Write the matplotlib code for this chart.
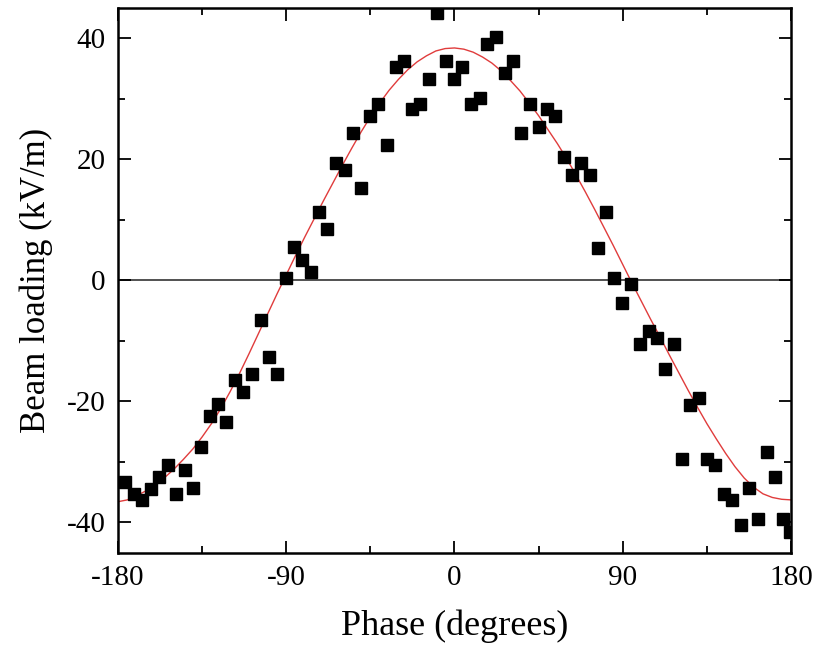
import matplotlib.pyplot as plt
from matplotlib.ticker import MultipleLocator

plt.rcParams['font.family'] = ['Liberation Serif', 'DejaVu Serif']
plt.rcParams['axes.unicode_minus'] = False

# measured points (phase in degrees, beam loading in kV/m)
phase = [-176.1, -171.6, -167.2, -162.5, -158.1, -153.3, -148.8, -144.4, -139.9, -135.4,
         -131.0, -126.5, -122.0, -117.6, -113.2, -108.3, -103.7, -99.3, -94.8, -90.3,
         -85.9, -81.4, -76.6, -72.5, -68.0, -63.2, -58.7, -54.3, -49.8, -45.4,
         -40.9, -35.9, -31.5, -27.0, -22.7, -18.2, -13.8, -9.4, -4.7, -0.3,
         4.2, 8.7, 13.5, 17.6, 22.4, 26.9, 31.3, 35.8, 40.6, 45.1,
         49.5, 54.0, 58.4, 62.9, 67.5, 72.3, 76.8, 80.9, 85.3, 89.8,
         94.6, 99.1, 103.9, 108.3, 112.8, 117.3, 121.7, 126.2, 130.8, 134.8,
         139.6, 144.0, 148.5, 153.0, 157.6, 162.1, 166.9, 171.4, 175.8, 179.3]
loading = [-33.4, -35.4, -36.4, -34.5, -32.5, -30.5, -35.4, -31.3, -34.3, -27.5,
           -22.5, -20.5, -23.5, -16.5, -18.5, -15.5, -6.6, -12.6, -15.5, 0.4,
           5.5, 3.4, 1.4, 11.3, 8.4, 19.4, 18.2, 24.3, 15.3, 27.2,
           29.2, 22.3, 35.2, 36.3, 28.3, 29.2, 33.3, 44.1, 36.2, 33.3,
           35.3, 29.2, 30.2, 39.1, 40.2, 34.2, 36.2, 24.3, 29.2, 25.3,
           28.3, 27.2, 20.4, 17.4, 19.4, 17.4, 5.3, 11.3, 0.4, -3.7,
           -0.6, -10.6, -8.4, -9.6, -14.6, -10.6, -29.5, -20.6, -19.5, -29.5,
           -30.5, -35.4, -36.4, -40.4, -34.3, -39.4, -28.4, -32.5, -39.4, -41.6]

# fitted curve, every 5 degrees
fit_phase = [-180, -175, -170, -165, -160, -155, -150, -145, -140, -135,
             -130, -125, -120, -115, -110, -105, -100, -95, -90, -85,
             -80, -75, -70, -65, -60, -55, -50, -45, -40, -35,
             -30, -25, -20, -15, -10, -5, 0, 5, 10, 15,
             20, 25, 30, 35, 40, 45, 50, 55, 60, 65,
             70, 75, 80, 85, 90, 95, 100, 105, 110, 115,
             120, 125, 130, 135, 140, 145, 150, 155, 160, 165,
             170, 175, 180]
fit_loading = [-36.6, -36.3, -35.6, -34.8, -33.8, -32.6, -31.2, -29.6, -27.9, -25.9,
               -23.7, -21.2, -18.4, -15.4, -12.2, -8.9, -5.6, -2.3, 0.9, 4.1,
               7.2, 10.2, 13.2, 16.1, 19.0, 21.8, 24.5, 27.0, 29.3, 31.4,
               33.2, 34.8, 36.1, 37.1, 37.9, 38.3, 38.4, 38.2, 37.7, 36.9,
               35.9, 34.6, 33.0, 31.3, 29.3, 27.2, 24.9, 22.6, 20.1, 17.4,
               14.6, 11.7, 8.7, 5.7, 2.6, -0.5, -3.5, -6.5, -9.4, -12.4,
               -15.3, -18.2, -21.0, -23.7, -26.2, -28.6, -30.8, -32.7, -34.2, -35.3,
               -35.9, -36.2, -36.3]

xticks = [-180, -90, 0, 90, 180]
xticklabels = ['-180', '-90', '0', '90', '180']
yticks = [-40, -20, 0, 20, 40]
yticklabels = ['-40', '-20', '0', '20', '40']

fig = plt.figure(figsize=(8.17, 6.58), dpi=100)
ax = fig.add_axes([0.1444, 0.1603, 0.8238, 0.8275])

ax.axhline(0, color='#333333', lw=1.2, zorder=1)
ax.plot(fit_phase, fit_loading, color='#e03c3c', lw=1.0, zorder=2)
ax.plot(phase, loading, ls='none', marker='s', ms=8, color='black', zorder=3)

ax.set_xlim(-180, 180)
ax.set_ylim(-45, 45)
ax.set_xticks(xticks)
ax.set_xticklabels(xticklabels)
ax.set_yticks(yticks)
ax.set_yticklabels(yticklabels)
ax.xaxis.set_minor_locator(MultipleLocator(45))
ax.yaxis.set_minor_locator(MultipleLocator(10))
ax.tick_params(which='both', direction='in', top=True, right=True, width=1.3,
               labelsize=21, colors='black')
ax.tick_params(which='major', length=9, pad=9)
ax.tick_params(which='minor', length=5)
for s in ax.spines.values():
    s.set_linewidth(1.8)

ax.set_xlabel('Phase (degrees)', fontsize=26, labelpad=13)
ax.set_ylabel('Beam loading (kV/m)', fontsize=25, labelpad=10)

fig.savefig('out.png', dpi=100)
